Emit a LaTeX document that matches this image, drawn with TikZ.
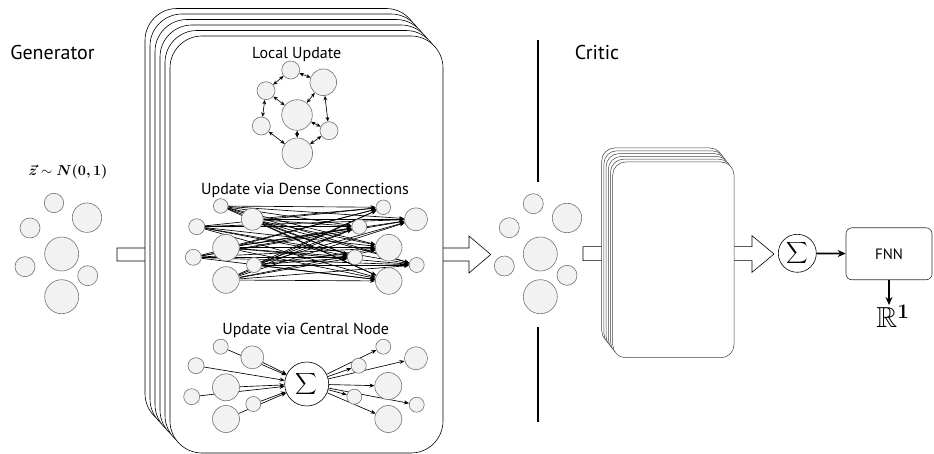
\documentclass[tikz,border=0pt]{standalone}
\usepackage{amssymb}
\usepackage{bm}
\usepackage{fontspec}
\setmainfont{PT Sans}
\usetikzlibrary{arrows.meta}
\pgfdeclarelayer{bg}
\pgfdeclarelayer{edges}
\pgfsetlayers{bg,edges,main}
\newcommand\zlabtext{$\bm{\vec{z}}\sim\bm{N(0,1)}$}
\begin{document}
\begin{tikzpicture}[x=1pt,y=-1pt,
  bub/.style={circle,fill=black!5,draw=black!55,line width=0.6pt,inner sep=0pt,minimum size=#1pt},
  sheet/.style={draw=black,line width=0.6pt,fill=white,rounded corners=32pt},
  csheet/.style={draw=black!75,line width=0.5pt,fill=white,rounded corners=13pt},
  hollow/.style={draw=black,line width=0.6pt,fill=white},
  edge/.style={line width=0.65pt,-{Stealth[length=5pt,width=4pt]}},
  dedge/.style={line width=0.65pt,{Stealth[length=4.5pt,width=3.8pt]}-{Stealth[length=4.5pt,width=3.8pt]}},
  thick arrow/.style={line width=1.7pt,-{Stealth[length=8pt,width=7pt]}},
  title/.style={font=\fontsize{16}{19}\selectfont,inner sep=0pt},
  big title/.style={font=\fontsize{20}{24}\selectfont,inner sep=0pt},
  math label/.style={font=\fontsize{15}{18}\selectfont,inner sep=0pt},
  sigma/.style={circle,draw=black,line width=0.6pt,fill=white,inner sep=0pt,minimum size=#1pt,font=\fontsize{15}{18}\selectfont}]
\useasboundingbox (0,0) rectangle (934,454);

% ---------- back layer: hollow arrows and stacks ----------
\begin{pgfonlayer}{bg}
  \draw[hollow] (117,248) -- (469,248) -- (469,236) -- (490.7,254.5) -- (469,273) -- (469,261) -- (117,261) -- cycle;
  \draw[hollow] (583,246.7) -- (752,246.7) -- (752,235.7) -- (774,254) -- (752,272.3) -- (752,260.7) -- (583,260.7) -- cycle;
  \foreach \i in {5,4,...,0} {
    \draw[sheet] ({170-5*\i},{36-5.5*\i}) rectangle ({443-5*\i},{453-5.5*\i});
  }
  \foreach \i in {5,4,...,0} {
    \draw[csheet] ({612.7-2.2*\i},{162-2.8*\i}) rectangle ({734-2.2*\i},{357.7-2.8*\i});
  }
\end{pgfonlayer}

% ---------- labels ----------
\node[big title] (gen) at (52.5,53) {Generator};
\node[big title] (crit) at (597,53) {Critic};
\node[math label] (zlab) at (68,171.7) {\zlabtext};
\node[title] (lu) at (296.7,54.3) {Local Update};
\node[title] (du) at (305,190) {Update via Dense Connections};
\node[title] (cu) at (305.7,330.7) {Update via Central Node};

% ---------- divider ----------
\draw[line width=1.4pt] (538,40) -- (538,182);
\draw[line width=1.4pt] (538,327) -- (538,422);

% ---------- generator input ----------
\node[bub=19.4] (g1) at (54,203) {};
\node[bub=29.4] (g2) at (87,217.7) {};
\node[bub=20] (g3) at (30,228) {};
\node[bub=34] (g4) at (61.7,254) {};
\node[bub=20] (g5) at (25,266.7) {};
\node[bub=20] (g6) at (87.7,275.7) {};
\node[bub=34] (g7) at (61.7,296.7) {};

% ---------- generated output ----------
\node[bub=20] (m1) at (533.3,203.7) {};
\node[bub=29.4] (m2) at (567,218) {};
\node[bub=20] (m3) at (509.3,227.7) {};
\node[bub=34] (m4) at (540.3,254) {};
\node[bub=20] (m5) at (504.3,266) {};
\node[bub=20] (m6) at (567,275.3) {};
\node[bub=34] (m7) at (540.3,296.7) {};

% ---------- local update ----------
\node[bub=18] (la) at (290.7,70) {};
\node[bub=26.6] (lb) at (323.3,82.3) {};
\node[bub=18] (lc) at (266,90.7) {};
\node[bub=30.6] (ld) at (297,115) {};
\node[bub=18] (le) at (261.3,126) {};
\node[bub=18] (lf) at (329,130.7) {};
\node[bub=30.6] (lg) at (297.3,153.3) {};
\begin{pgfonlayer}{edges}
  \foreach \a/\b in {la/lb,la/lc,lc/ld,lb/ld,lb/lf,lc/le,le/lg,ld/lg,ld/lf,lf/lg}
    \draw[dedge] (\a) -- (\b);
\end{pgfonlayer}

% ---------- dense connections ----------
\node[bub=14.6] (dl1) at (220.7,206) {};
\node[bub=22] (dl2) at (252.3,219.3) {};
\node[bub=16] (dl3) at (196.7,226.7) {};
\node[bub=26.6] (dl4) at (226,247.7) {};
\node[bub=16] (dl5) at (193.3,257.3) {};
\node[bub=15] (dl6) at (254,265) {};
\node[bub=26.6] (dl7) at (226,280) {};
\node[bub=14.6] (dr1) at (383.3,207.3) {};
\node[bub=23] (dr2) at (416,219.3) {};
\node[bub=15] (dr3) at (359.3,226.7) {};
\node[bub=26.6] (dr4) at (388.7,247.7) {};
\node[bub=15] (dr5) at (355,257.3) {};
\node[bub=15] (dr6) at (416.7,265) {};
\node[bub=26.6] (dr7) at (388.7,281) {};
\begin{pgfonlayer}{edges}
  \foreach \i in {1,...,7} \foreach \j in {1,...,7}
    \draw[edge] (dl\i) -- (dr\j);
\end{pgfonlayer}

% ---------- central node ----------
\node[bub=15] (cl1) at (220.7,346.7) {};
\node[bub=23] (cl2) at (252.3,357.3) {};
\node[bub=16] (cl3) at (196,365.7) {};
\node[bub=27] (cl4) at (226,387.3) {};
\node[bub=16] (cl5) at (191.7,396.7) {};
\node[bub=15] (cl6) at (253.3,404) {};
\node[bub=27] (cl7) at (226,419) {};
\node[bub=15] (cr1) at (383.3,346.7) {};
\node[bub=23] (cr2) at (416,358.3) {};
\node[bub=15] (cr3) at (358.7,365.7) {};
\node[bub=27] (cr4) at (388.3,386) {};
\node[bub=15] (cr5) at (354.3,396.7) {};
\node[bub=15] (cr6) at (416.7,404.7) {};
\node[bub=27] (cr7) at (388.3,419) {};
\node[sigma=44] (cs) at (306.7,384) {$\displaystyle\sum$};
\begin{pgfonlayer}{edges}
  \foreach \i in {1,...,7} {
    \draw[edge] (cl\i) -- (cs);
    \draw[edge] (cs) -- (cr\i);
  }
\end{pgfonlayer}

% ---------- critic head ----------
\node[sigma=38] (rs) at (797.3,253.3) {$\displaystyle\sum$};
\node[draw=black!80,line width=0.6pt,fill=white,rounded corners=6pt,minimum width=86pt,minimum height=52pt,inner sep=0pt,font=\fontsize{15}{18}\selectfont] (fnn) at (889,253.8) {FNN};
\node[inner sep=0pt,font=\fontsize{29}{33}\selectfont,anchor=north] (out) at (893,305) {$\mathbb{R}^{\bm{1}}$};
\draw[thick arrow] (rs) -- (fnn);
\draw[thick arrow] (fnn.south) -- (fnn.south |- out.north);
\end{tikzpicture}
\end{document}
